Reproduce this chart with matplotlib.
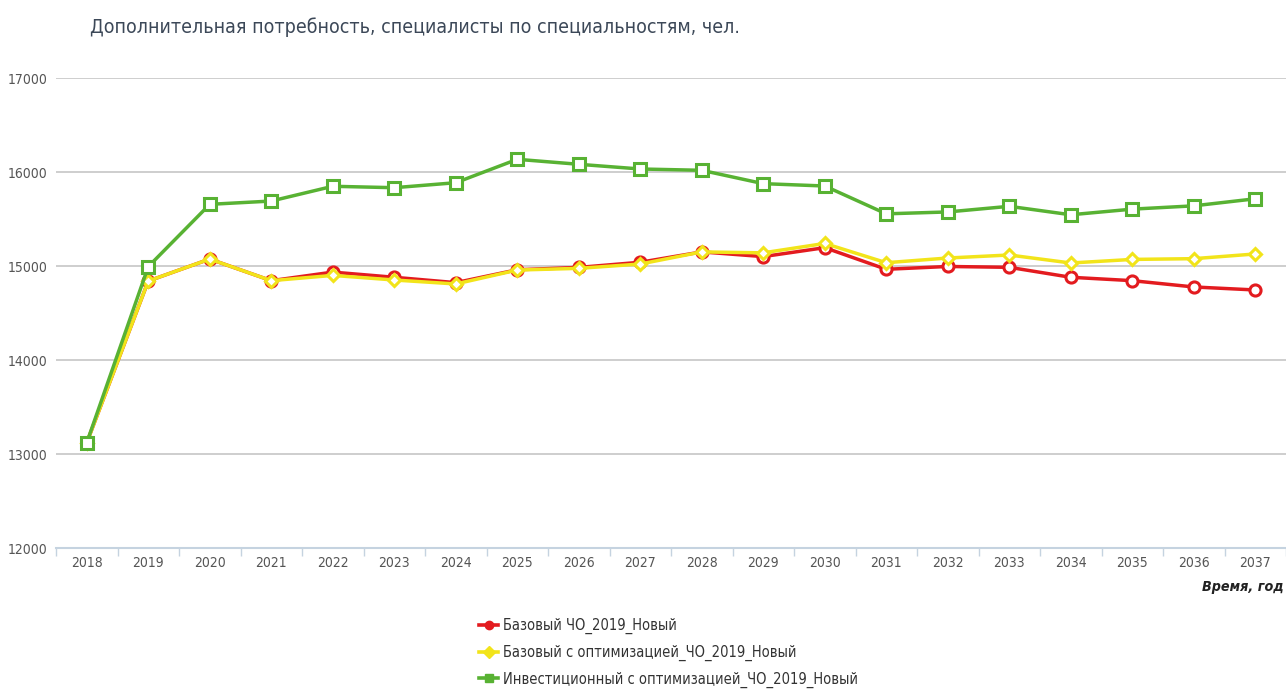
import matplotlib
matplotlib.use('Agg')
from matplotlib import pyplot as plt
from matplotlib.font_manager import FontProperties
import numpy as np

years = [str(y) for y in range(2018, 2038)]

base = [13120, 14840, 15074, 14844, 14935, 14880, 14823, 14960, 14985, 15040,
        15150, 15100, 15195, 14965, 14995, 14986, 14880, 14844, 14777, 14745]
base_opt = [13120, 14840, 15074, 14844, 14900, 14851, 14809, 14957, 14975, 15021,
            15150, 15140, 15240, 15035, 15085, 15117, 15032, 15070, 15078, 15128]
invest_opt = [13120, 14993, 15656, 15691, 15848, 15833, 15886, 16135, 16082, 16032,
              16018, 15876, 15851, 15555, 15575, 15635, 15545, 15605, 15640, 15715]

labels = ['Базовый ЧО_2019_Новый',
          'Базовый с оптимизацией_ЧО_2019_Новый',
          'Инвестиционный с оптимизацией_ЧО_2019_Новый']
colors = ['#e31b1f', '#f2e41a', '#58b233']
markers = ['o', 'D', 's']

font = dict(family='DejaVu Sans', stretch='condensed')

fig = plt.figure(figsize=(12.86, 6.89), dpi=100)
ax = fig.add_axes([56 / 1286, 1 - 548 / 689, 1 - 56 / 1286, (548 - 78) / 689])

x = np.arange(len(years))
for vals, lab, col, mk in zip([base, base_opt, invest_opt], labels, colors, markers):
    msize = 6.5 if mk == 'D' else 8
    ax.plot(x, vals, color=col, lw=2.5, marker=mk, markersize=msize,
            markerfacecolor='white', markeredgecolor=col, markeredgewidth=2.2,
            clip_on=False, label=lab, zorder=3)

ax.set_xlim(-0.5, len(years) - 0.5)
ax.set_ylim(12000, 17000)
ax.set_yticks(np.arange(12000, 17001, 1000))
ax.set_xticks(x)
ax.set_xticklabels(years)
ax.set_xticks(np.arange(-0.5, len(years), 1), minor=True)

ax.grid(axis='y', color='#c6c6c6', lw=1.2)
ax.set_axisbelow(True)
for side in ['top', 'right', 'left']:
    ax.spines[side].set_visible(False)
ax.spines['bottom'].set_color('#c5d3e0')
ax.spines['bottom'].set_linewidth(1.5)

ax.tick_params(axis='x', which='major', length=0, pad=6, labelcolor='#555555')
ax.tick_params(axis='x', which='minor', length=6, color='#c5d3e0', width=1)
ax.tick_params(axis='y', length=0, pad=6, labelcolor='#555555')
for t in ax.get_xticklabels() + ax.get_yticklabels():
    t.set_fontproperties(FontProperties(size=10, **font))

fig.text(90 / 1286, 1 - 27 / 689, 'Дополнительная потребность, специалисты по специальностям, чел.',
         fontsize=14, color='#3c4858', va='center', ha='left', **font)
fig.text(1 - 2 / 1286, 1 - 587 / 689, 'Время, год', fontsize=10.3, fontweight='bold',
         fontstyle='italic', color='#222222', va='center', ha='right', **font)

leg_handles = []
for col, mk in zip(colors, markers):
    leg_handles.append(plt.Line2D([], [], color=col, lw=2.6, marker=mk, markersize=6,
                                  markerfacecolor=col, markeredgecolor=col))
fig.legend(leg_handles, labels, loc='upper left', bbox_to_anchor=(466 / 1286, 1 - 605 / 689),
           frameon=False, handlelength=1.3, handletextpad=0.35, labelspacing=0.72,
           prop=FontProperties(size=10.5, **font), labelcolor='#333333')

fig.savefig('out.png', dpi=100)
